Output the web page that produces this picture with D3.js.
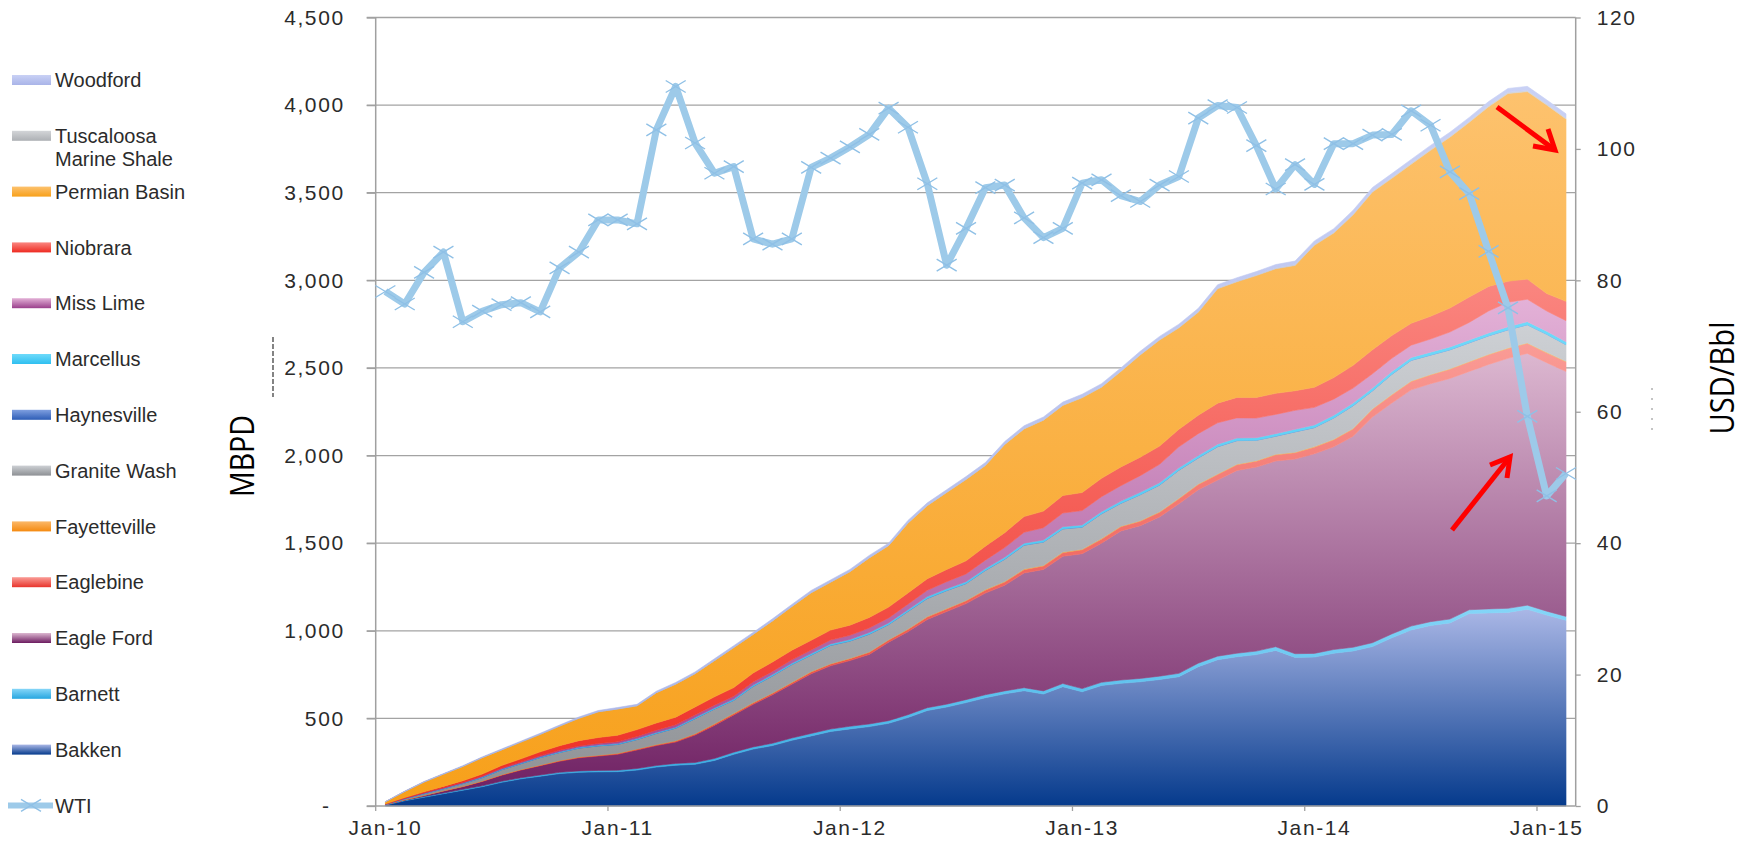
<!DOCTYPE html>
<html lang="en">
<head>
<meta charset="utf-8">
<title>Shale oil production by play vs WTI</title>
<script src="https://d3js.org/d3.v7.min.js"></script>
<style>
  body { margin: 0; background: #fff; }
  svg { display: block; font-family: "Liberation Sans", Arial, sans-serif; }
  .axis .tick text { font-size: 21px; fill: #2b2b2b; letter-spacing: 1.6px; }
  .legend text { font-size: 20px; fill: #2b2b2b; }
  .title { font-family: "Open Sans", sans-serif; font-size: 32px; fill: #000; }
</style>
</head>
<body>
<svg width="1747" height="841"></svg>
<script>
// monthly, Jan-10 .. Feb-15 (62 months)
const months = d3.timeMonth.range(new Date(2010, 0, 1), new Date(2015, 2, 1));
const xTickLabels = ["Jan-10", "Jan-11", "Jan-12", "Jan-13", "Jan-14", "Jan-15"];
const leftTicks = [0, 500, 1000, 1500, 2000, 2500, 3000, 3500, 4000, 4500];
const rightTicks = [0, 20, 40, 60, 80, 100, 120];

// MBPD by play (stacked, bottom to top)
const bakken = [5,30,50,70,90,110,135,155,170,185,192,195, 196,205,222,233,238,260,295,325,345,375,400,425, 440,453,472,505,545,565,590,618,640,658,639,681, 652,688,700,709,722,738,795,835,852,864,888,848, 850,872,885,910,960,1005,1030,1045,1098,1102,1105,1123,1090,1060];
const barnett = [2,3,4,4,5,5,6,6,7,7,8,8, 8,9,9,10,10,11,12,12,13,13,14,14, 15,15,15,16,16,16,17,17,17,17,18,18, 18,18,19,19,19,19,20,20,20,20,21,21, 21,21,21,22,22,22,22,22,22,23,23,23,22,22];
const eagleFord = [0,2,6,11,15,25,34,44,53,63,75,82, 91,106,114,122,157,189,213,243,277,307,341,361, 375,397,448,474,504,529,548,580,603,655,693,726, 770,794,851,872,909,968,990,1005,1043,1050,1060,1111, 1139,1157,1204,1288,1318,1348,1358,1373,1360,1395,1427,1437,1418,1398];
const eaglebine = [1,1,1,2,2,2,3,3,3,4,4,4, 5,5,5,6,6,7,7,8,8,9,10,10, 11,12,12,13,14,15,16,17,18,19,20,21, 22,23,24,25,26,28,30,32,33,34,35,36, 38,40,42,44,46,48,50,52,54,55,56,57,56,55];
const fayetteville = [0,0,0,0,1,1,1,1,1,1,1,1, 1,1,1,1,2,2,2,2,2,2,2,2, 2,2,2,2,2,2,2,3,3,3,3,3, 3,3,3,3,3,3,3,3,3,3,3,3, 3,3,3,3,3,3,3,3,3,3,3,3,3,3];
const graniteWash = [0,5,9,11,15,18,27,32,42,45,50,53, 50,53,63,72,85,84,74,92,97,101,94,104, 98,101,86,100,103,102,96,109,127,136,133,132, 126,141,130,148,152,160,148,155,134,116,103,116, 108,121,129,102,114,117,110,108,106,105,103,103,103,94];
const haynesville = [0,0,0,0,0,1,1,1,1,1,1,1, 1,1,1,1,1,1,1,1,1,1,1,1, 1,1,1,1,1,1,1,1,1,1,1,1, 1,1,1,1,1,1,1,1,1,1,1,1, 1,1,1,1,1,1,1,1,1,1,1,1,1,1];
const marcellus = [1,1,2,2,2,3,3,3,3,4,4,4, 4,5,5,5,6,6,6,7,7,7,8,8, 8,9,9,9,10,10,10,10,11,11,11,12, 12,12,12,13,13,13,13,14,14,14,14,14, 15,15,15,15,15,16,16,16,16,16,17,17,17,17];
const missLime = [1,2,3,4,4,5,6,6,7,8,8,9, 10,11,12,13,14,15,16,17,18,19,20,22, 24,26,28,32,36,40,44,48,55,62,70,78, 82,85,88,95,105,120,125,122,115,112,110,108, 100,92,85,82,76,70,75,85,100,125,140,128,115,120];
const niobrara = [2,4,6,8,10,12,15,18,22,26,30,34, 38,40,42,44,46,48,50,52,54,55,56,57, 58,60,62,64,66,70,75,80,85,90,95,100, 103,105,107,106,104,100,105,112,117,118,120,112, 115,123,130,137,130,125,130,137,145,140,120,115,100,110];
const permian = [12,35,56,70,82,94,89,96,100,112,128,147, 150,136,173,188,190,206,228,220,234,249,271,273, 305,340,351,398,417,439,464,460,503,500,519,514, 541,520,545,583,605,579,588,653,660,695,711,715, 810,825,859,900,897,908,947,975,997,1026,1071,1070,1076,1041];
const tuscaloosa = [0,0,0,0,0,0,0,0,0,0,0,0, 0,0,0,1,1,1,1,1,1,1,1,1, 1,1,1,2,2,2,2,2,2,2,2,3, 3,3,3,3,3,3,4,4,4,4,4,5, 5,5,5,5,6,6,6,6,6,7,7,7,7,7];
const woodford = [1,2,3,3,4,4,5,5,6,6,7,7, 8,8,8,9,9,10,10,10,11,11,12,12, 12,13,13,14,14,14,15,15,15,16,16,16, 17,17,17,18,18,18,18,19,19,19,20,20, 20,20,21,21,21,21,22,22,22,22,22,23,22,22];

// WTI, USD/Bbl
const wti = [78.3,76.4,81.2,84.3,73.7,75.3,76.3,76.6,75.2,81.9,84.3,89.2, 89.2,88.6,102.9,109.5,100.9,96.3,97.3,86.3,85.5,86.3,97.2,98.6, 100.3,102.2,106.2,103.3,94.7,82.3,87.9,94.1,94.5,89.5,86.5,87.9, 94.8,95.3,92.9,92.0,94.5,95.8,104.7,106.6,106.3,100.5,93.9,97.6, 94.6,100.8,100.8,102.1,102.2,105.8,103.6,96.5,93.2,84.4,75.8,59.3, 47.2,50.6];

const seriesNames = ["Bakken", "Barnett", "Eagle Ford", "Eaglebine", "Fayetteville", "Granite Wash",
  "Haynesville", "Marcellus", "Miss Lime", "Niobrara", "Permian Basin", "Tuscaloosa Marine Shale", "Woodford"];
const seriesValues = [bakken, barnett, eagleFord, eaglebine, fayetteville, graniteWash,
  haynesville, marcellus, missLime, niobrara, permian, tuscaloosa, woodford];
// gradient colours: [bottom, top]
const seriesColors = [
  ["#053a8c", "#aab7e6"], ["#27a6e0", "#86d6f8"], ["#6c1c60", "#dcb7d0"], ["#e8342c", "#fa9c96"],
  ["#f58a10", "#fbb868"], ["#8d9094", "#cdd0d4"], ["#2d5db6", "#7f9fe0"], ["#2fbff0", "#6edafa"],
  ["#9a3f8c", "#e3b1d7"], ["#ee2b21", "#fa8680"], ["#f7a01a", "#fdc26e"], ["#adb0b4", "#d3d5d8"],
  ["#a9b4e8", "#c9d1f5"]
];
const wtiColor = "#9dcae9";

const table = months.map((m, i) => {
  const row = { month: m };
  seriesNames.forEach((n, k) => row[n] = seriesValues[k][i]);
  return row;
});

const svg = d3.select("svg");
const plot = { left: 375.7, right: 1575.7, top: 17.5, bottom: 806 };

const x = d3.scaleBand().domain(months).range([plot.left, plot.right]);
const cx = d => x(d) + x.bandwidth() / 2;
const yL = d3.scaleLinear().domain([0, 4500]).range([plot.bottom, plot.top]);
const yR = d3.scaleLinear().domain([0, 120]).range([plot.bottom, plot.top]);

const defs = svg.append("defs");
seriesNames.forEach((n, i) => {
  const g = defs.append("linearGradient").attr("id", "grad" + i)
    .attr("x1", 0).attr("y1", 1).attr("x2", 0).attr("y2", 0);
  g.append("stop").attr("offset", 0).attr("stop-color", seriesColors[i][0]);
  g.append("stop").attr("offset", 1).attr("stop-color", seriesColors[i][1]);
});

// gridlines
svg.append("g").selectAll("line")
  .data(leftTicks.filter(d => d > 0))
  .join("line")
  .attr("x1", plot.left - 9).attr("x2", plot.right)
  .attr("y1", d => yL(d)).attr("y2", d => yL(d))
  .attr("stroke", "#a3a3a3").attr("stroke-width", 1.3);

// stacked areas
const stacked = d3.stack().keys(seriesNames)(table);
const area = d3.area()
  .x(d => cx(d.data.month))
  .y0(d => yL(d[0]))
  .y1(d => yL(d[1]));

svg.append("g").selectAll("path")
  .data(stacked)
  .join("path")
  .attr("d", area)
  .attr("fill", (d, i) => `url(#grad${i})`)
  .attr("stroke", (d, i) => `url(#grad${i})`)
  .attr("stroke-width", 0.6);

// axes lines
const axisColor = "#a0a0a0";
svg.append("line").attr("x1", plot.left).attr("x2", plot.left)
  .attr("y1", plot.top).attr("y2", plot.bottom).attr("stroke", axisColor).attr("stroke-width", 1.5);
svg.append("line").attr("x1", plot.right).attr("x2", plot.right)
  .attr("y1", plot.top).attr("y2", plot.bottom).attr("stroke", axisColor).attr("stroke-width", 1.5);
svg.append("line").attr("x1", plot.left - 9).attr("x2", plot.right)
  .attr("y1", plot.bottom).attr("y2", plot.bottom).attr("stroke", axisColor).attr("stroke-width", 1.5);

// left axis
const leftAxis = svg.append("g").attr("class", "axis")
  .attr("transform", `translate(${plot.left},0)`)
  .call(d3.axisLeft(yL).tickValues(leftTicks)
    .tickFormat(d => d === 0 ? "-" : d3.format(",")(d))
    .tickSize(9).tickPadding(22).tickSizeOuter(0));
leftAxis.select(".domain").remove();
leftAxis.selectAll(".tick line").attr("stroke", axisColor).attr("stroke-width", 1.3);
leftAxis.selectAll(".tick text").filter(d => d === 0).attr("x", -45);

// right axis
const rightAxis = svg.append("g").attr("class", "axis")
  .attr("transform", `translate(${plot.right},0)`)
  .call(d3.axisRight(yR).tickValues(rightTicks).tickSize(5).tickPadding(16).tickSizeOuter(0));
rightAxis.select(".domain").remove();
rightAxis.selectAll(".tick line").attr("stroke", axisColor).attr("stroke-width", 1.3);

// bottom axis: labels centred on the January band, ticks at the band edge
const januaries = months.filter(d => d.getMonth() === 0);
const bottomAxis = svg.append("g").attr("class", "axis")
  .attr("transform", `translate(0,${plot.bottom})`)
  .call(d3.axisBottom(x).tickValues(januaries)
    .tickFormat((d, i) => xTickLabels[i]).tickSize(0).tickPadding(14));
bottomAxis.select(".domain").remove();
svg.append("g").selectAll("line")
  .data(januaries)
  .join("line")
  .attr("x1", d => x(d)).attr("x2", d => x(d))
  .attr("y1", plot.bottom).attr("y2", plot.bottom + 5)
  .attr("stroke", axisColor).attr("stroke-width", 1.3);

// WTI line with x markers
const wtiLine = d3.line().x((d, i) => cx(months[i])).y(d => yR(d));
svg.append("path")
  .datum(wti)
  .attr("d", wtiLine)
  .attr("fill", "none")
  .attr("stroke", wtiColor)
  .attr("stroke-width", 7)
  .attr("stroke-linejoin", "round");

const xMarker = "M-10,-6L10,6M-10,6L10,-6";
svg.append("g").selectAll("path")
  .data(wti)
  .join("path")
  .attr("transform", (d, i) => `translate(${cx(months[i])},${yR(d)})`)
  .attr("d", xMarker)
  .attr("fill", "none")
  .attr("stroke", "#8fc0e6")
  .attr("stroke-width", 1.4);

// axis titles
svg.append("text").attr("class", "title")
  .attr("transform", "translate(254,456) rotate(-90)")
  .attr("text-anchor", "middle")
  .attr("textLength", 82).attr("lengthAdjust", "spacingAndGlyphs")
  .text("MBPD");
svg.append("text").attr("class", "title")
  .attr("transform", "translate(1734,378) rotate(-90)")
  .attr("text-anchor", "middle")
  .attr("textLength", 113).attr("lengthAdjust", "spacingAndGlyphs")
  .text("USD/Bbl");

// small dotted remnants next to the axis titles
svg.append("line").attr("x1", 273).attr("x2", 273).attr("y1", 337).attr("y2", 397)
  .attr("stroke", "#333").attr("stroke-width", 1.2).attr("stroke-dasharray", "5,2");
svg.append("line").attr("x1", 1652).attr("x2", 1652).attr("y1", 388).attr("y2", 430)
  .attr("stroke", "#888").attr("stroke-width", 1).attr("stroke-dasharray", "2,8");

// red arrows
function arrow(x1, y1, x2, y2, ax1, ay1, ax2, ay2) {
  const g = svg.append("g").attr("stroke", "#ff0000").attr("stroke-width", 5).attr("fill", "none");
  g.append("line").attr("x1", x1).attr("y1", y1).attr("x2", x2).attr("y2", y2);
  g.append("polyline").attr("points", `${ax1},${ay1} ${x2},${y2} ${ax2},${ay2}`)
    .attr("stroke-linejoin", "miter");
}
arrow(1497, 107, 1555, 150, 1533, 146, 1548, 129);
arrow(1452, 530, 1510, 457, 1490, 465, 1507, 478);

// legend (reverse stacking order, then WTI)
const legendItems = seriesNames.map((n, i) => ({ name: n, i })).reverse();
const legend = svg.append("g").attr("class", "legend");
const legendTop = 80, legendStep = 55.8;
legendItems.forEach((d, k) => {
  const yc = legendTop + k * legendStep;
  legend.append("rect").attr("x", 12).attr("y", yc - 5).attr("width", 39).attr("height", 10)
    .attr("fill", `url(#grad${d.i})`);
  const t = legend.append("text").attr("x", 55).attr("y", yc).attr("dy", "0.36em");
  if (d.name === "Tuscaloosa Marine Shale") {
    t.append("tspan").attr("x", 55).text("Tuscaloosa");
    t.append("tspan").attr("x", 55).attr("dy", 23).text("Marine Shale");
  } else {
    t.text(d.name);
  }
});
const wtiY = legendTop + legendItems.length * legendStep;
legend.append("line").attr("x1", 8).attr("x2", 53).attr("y1", wtiY).attr("y2", wtiY)
  .attr("stroke", wtiColor).attr("stroke-width", 6);
legend.append("path").attr("transform", `translate(31,${wtiY})`).attr("d", xMarker)
  .attr("fill", "none").attr("stroke", "#8fc0e6").attr("stroke-width", 1.4);
legend.append("text").attr("x", 55).attr("y", wtiY).attr("dy", "0.36em").text("WTI");
</script>
</body>
</html>
